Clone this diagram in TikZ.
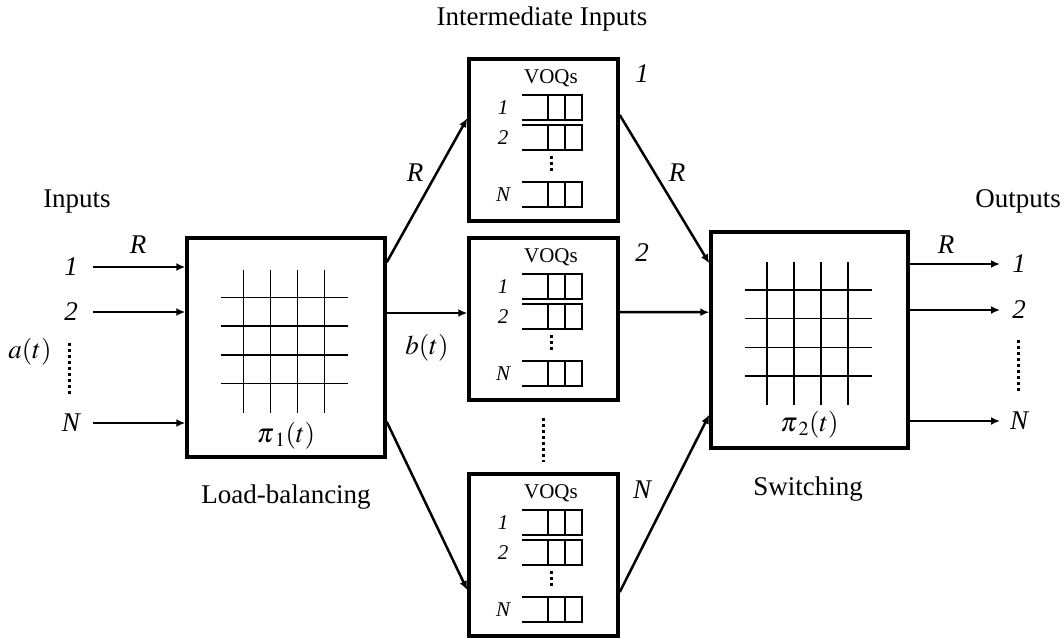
\documentclass[tikz,border=0pt]{standalone}
\usepackage{mathptmx}
\usepackage[no-math]{fontspec}
\setmainfont{Liberation Serif}
\usetikzlibrary{arrows.meta,positioning}

\newcommand{\xbargrid}[1]{% crossbar lines of a switch box
  \begin{scope}[shift={(#1.center)},shift={(-2,-7)}]
    \foreach \k in {-1.5,-0.5,0.5,1.5}{
      \draw[gridl] (\k*27,-71) -- (\k*27,72);
      \draw[gridl] (-63,\k*28.7) -- (64,\k*28.7);}
  \end{scope}}
\newcommand{\voqset}[1]{% queues of an intermediate box
  \node[small,anchor=base] (#1-voq) at ([xshift=7.5pt,yshift=-26pt]#1.north) {VOQs};
  \foreach \t/\l in {38/1,68/2,125/N}{
    \draw[qline] ([xshift=-21.5pt,yshift=-\t pt]#1.north) -- ++(60,0) -- ++(0,25) -- ++(-60,0);
    \draw[qline] ([xshift=4.5pt,yshift=-\t pt]#1.north) -- ++(0,25);
    \draw[qline] ([xshift=21.5pt,yshift=-\t pt]#1.north) -- ++(0,25);
    \node[slab] (#1-\l) at ([xshift=-40.5pt,yshift={-\t pt-12.5pt}]#1.north) {\l};}
  \draw[dots] ([xshift=7.5pt,yshift=-99pt]#1.north) -- ++(0,17);}

\begin{document}
\begin{tikzpicture}[x=1pt,y=-1pt,
  box/.style={draw,line width=3.5pt,inner sep=0pt},
  arj/.style={line width=2.5pt,-{Latex[length=9pt,width=8pt]}},
  gridl/.style={line width=1.5pt},
  qline/.style={line width=2pt},
  dots/.style={line width=3pt,dash pattern=on 3pt off 3pt},
  big/.style={font=\fontsize{27}{32}\selectfont},
  lab/.style={font=\fontsize{27}{32}\selectfont\itshape},
  small/.style={font=\fontsize{21}{25}\selectfont},
  slab/.style={font=\fontsize{21}{25}\selectfont\itshape}]
  \useasboundingbox (0,0) rectangle (1064,637);
  % switch boxes
  \node[box,minimum width=198pt,minimum height=219pt] (lb) at (286,347.5) {};
  \node[box,minimum width=197pt,minimum height=216pt] (rb) at (809.5,340) {};
  \xbargrid{lb}
  \xbargrid{rb}
  \node[big] (pi1) at ([yshift=23pt]lb.south) {$\pi_{\mkern3mu 1}(t)$};
  \node[big] (pi2) at ([yshift=25pt]rb.south) {$\pi_{\mkern3mu 2}(t)$};
  % intermediate boxes
  \begin{scope}[every node/.append style={minimum width=149pt,minimum height=162pt}]
    \node[box] (q1) at (543.5,140) {};
    \node[box,below=13.5pt of q1] (q2) {};
    \node[box,below=70.5pt of q2] (qN) {};
  \end{scope}
  \voqset{q1}
  \voqset{q2}
  \voqset{qN}
  \node[lab] (n1) at (642,74) {1};
  \node[lab] (n2) at (642,253) {2};
  \node[lab] (nN) at (642,490) {N};
  \coordinate (md1) at (543,418);
  \coordinate (md2) at (543,462);
  \draw[dots] (md1) -- (md2);
  % inputs
  \foreach \y/\n [count=\i] in {267/1,312/2,423/N}{
    \node[lab] (in\i) at (71,\y) {\n};
    \coordinate (s\i) at (93,\y);
    \draw[arj] (s\i) -- (s\i -| lb.west);}
  \node[lab] (rin) at (138,245) {R};
  \node[big] (at) at (30,352) {$a(t)$};
  \coordinate (ad1) at (69,343);
  \coordinate (ad2) at (69,395);
  \draw[dots] (ad1) -- (ad2);
  % outputs
  \foreach \y/\n [count=\i] in {264/1,310/2,421/N}{
    \coordinate (e\i) at (1000,\y);
    \draw[arj] (e\i -| rb.east) -- (e\i);
    \node[lab] (out\i) at (1019,\y) {\n};}
  \node[lab] (rout) at (946,245) {R};
  \coordinate (od1) at (1018,340);
  \coordinate (od2) at (1018,392);
  \draw[dots] (od1) -- (od2);
  % load-balancing stage
  \draw[arj] ([yshift=-26pt]lb.north east) -- ([yshift=-61pt]q1.north west);
  \draw[arj] ([yshift=6pt]q2.west -| lb.east) -- ([yshift=6pt]q2.west);
  \draw[arj] ([yshift=37pt]lb.south east) -- ([yshift=-35pt]qN.west);
  \node[lab] (r1) at (415,173) {R};
  \node[big] (bt) at (427,348) {$b(t)$};
  % switching stage
  \draw[arj] ([yshift=25pt]q1.east) -- ([yshift=-33pt]rb.north west);
  \draw[arj] ([yshift=7pt]q2.east) -- ([yshift=-82pt]rb.north west);
  \draw[arj] ([yshift=-37pt]qN.east) -- ([yshift=35pt]rb.south west);
  \node[lab] (r2) at (677,173) {R};
  % titles
  \node[big,anchor=base] (tin) at (77,207) {Inputs};
  \node[big,anchor=base] (tout) at (1018,207) {Outputs};
  \node[big,anchor=base] (tmid) at (542,25) {Intermediate Inputs};
  \node[big,anchor=base] (tlb) at (286,503) {Load-balancing};
  \node[big,anchor=base] (tsw) at (808,495) {Switching};
\end{tikzpicture}
\end{document}
